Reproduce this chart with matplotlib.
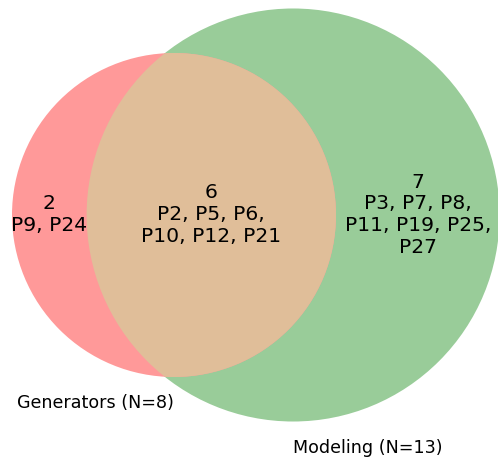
import numpy as np
import matplotlib
matplotlib.use('Agg')
import matplotlib.pyplot as plt
from matplotlib.patches import Circle

# set sizes
set_names = ['Generators', 'Modeling']
only_a = ['P9', 'P24']
both = ['P2', 'P5', 'P6', 'P10', 'P12', 'P21']
only_b = ['P3', 'P7', 'P8', 'P11', 'P19', 'P25', 'P27']

n_a = len(only_a) + len(both)
n_b = len(only_b) + len(both)
n_ab = len(both)

col_a = (1.0, 0.6, 0.6)
col_b = (0.6, 0.8, 0.6)
col_ab = (0.878, 0.745, 0.6)


def overlap_area(r1, r2, d):
    # area of the lens between two circles
    if d >= r1 + r2:
        return 0.0
    if d <= abs(r1 - r2):
        return np.pi * min(r1, r2) ** 2
    a1 = r1**2 * np.arccos((d**2 + r1**2 - r2**2) / (2 * d * r1))
    a2 = r2**2 * np.arccos((d**2 + r2**2 - r1**2) / (2 * d * r2))
    a3 = 0.5 * np.sqrt((-d + r1 + r2) * (d + r1 - r2) * (d - r1 + r2) * (d + r1 + r2))
    return a1 + a2 - a3


# area proportional to set size
r_a = np.sqrt(n_a / np.pi)
r_b = np.sqrt(n_b / np.pi)
lo, hi = abs(r_a - r_b), r_a + r_b
for _ in range(100):
    mid = 0.5 * (lo + hi)
    if overlap_area(r_a, r_b, mid) > n_ab:
        lo = mid
    else:
        hi = mid
d = 0.5 * (lo + hi)

W, H = 498, 462
fig = plt.figure(figsize=(W / 100, H / 100), dpi=100)
ax = fig.add_axes([0, 0, 1, 1])
s = 162.0 / r_a   # pixels per data unit
xa, ya = 174.0, 247.0  # pixel position of circle A centre
ax.set_xlim(-xa / s, (W - xa) / s)
ax.set_ylim(-ya / s, (H - ya) / s)
ax.set_aspect('equal')
ax.axis('off')

cb = Circle((d, 0), r_b, facecolor=col_b, edgecolor='none')
ax.add_patch(cb)
ax.add_patch(Circle((0, 0), r_a, facecolor=col_a, edgecolor='none'))
inter = Circle((0, 0), r_a, facecolor=col_ab, edgecolor='none')
ax.add_patch(inter)
inter.set_clip_path(cb)

fs = 14.6


def region_text(items, per_line):
    lines = [str(len(items))]
    for i in range(0, len(items), per_line):
        chunk = ', '.join(items[i:i + per_line])
        if i + per_line < len(items):
            chunk += ','
        lines.append(chunk)
    return '\n'.join(lines)


x_left_b = d - r_b
x_right_a = r_a
ax.text((-r_a + x_left_b) / 2, 0, region_text(only_a, 2), ha='center', va='center',
        fontsize=fs, multialignment='center')
ax.text((x_left_b + x_right_a) / 2, 0, region_text(both, 3), ha='center', va='center',
        fontsize=fs, multialignment='center')
lines_b = ['7', 'P3, P7, P8,', 'P11, P19, P25,', 'P27']
ax.text((x_right_a + d + r_b) / 2, 0, '\n'.join(lines_b), ha='center', va='center',
        fontsize=fs, multialignment='center')

off = 17.0 / s
ax.text(0, -r_a - off, '%s (N=%d)' % (set_names[0], n_a), ha='right', va='top', fontsize=12.6)
ax.text(d, -r_b - off, '%s (N=%d)' % (set_names[1], n_b), ha='left', va='top', fontsize=12.6)

fig.savefig('out.png', dpi=100)
plt.close(fig)
